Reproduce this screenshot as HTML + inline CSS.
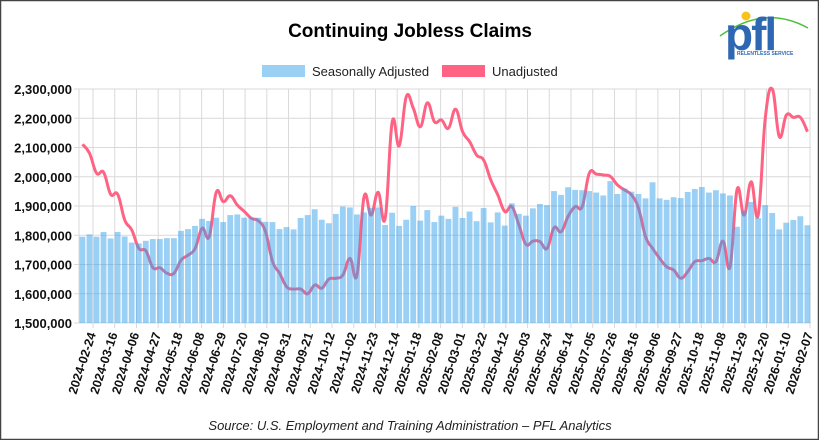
<!DOCTYPE html>
<html><head><meta charset="utf-8"><style>
body{margin:0;background:#fff;}
svg{display:block;font-family:"Liberation Sans",Arial,sans-serif;}
</style></head><body>
<svg id="c" width="819" height="440" viewBox="0 0 819 440" xmlns="http://www.w3.org/2000/svg">
<rect x="0.5" y="0.5" width="818" height="439" fill="#fff" stroke="#444" stroke-width="1.5"/>
<text x="410" y="37" text-anchor="middle" font-size="19" font-weight="bold" fill="#000">Continuing Jobless Claims</text>
<rect x="262" y="65" width="43" height="12" fill="rgb(155,208,245)"/>
<text x="312" y="76" font-size="13" fill="#222">Seasonally Adjusted</text>
<rect x="442" y="65" width="43" height="12" fill="rgb(255,99,132)"/>
<text x="492" y="76" font-size="13" fill="#222">Unadjusted</text>
<g id="logo">
<path d="M720 36 Q765 4 808 28" fill="none" stroke="#4bbf3a" stroke-width="1.5"/>
<circle cx="746" cy="16" r="4.5" fill="#f7c21c"/>
<text x="725" y="50" font-size="46" font-weight="bold" fill="#2f68b2" letter-spacing="-2">pfl</text>
<text x="737" y="55" font-size="5" font-weight="bold" fill="#2f68b2">RELENTLESS SERVICE</text>
</g>
<g id="grid"></g><g id="line"></g><g id="bars"></g><g id="labels"></g>
<text x="410" y="430" text-anchor="middle" font-size="13" font-style="italic" fill="#222">Source: U.S. Employment and Training Administration – PFL Analytics</text>
</svg>
<script>
var NS="http://www.w3.org/2000/svg";
function el(t,a,p,txt){var e=document.createElementNS(NS,t);for(var k in a)e.setAttribute(k,a[k]);if(txt)e.textContent=txt;document.getElementById(p).appendChild(e);return e;}
var sa=[1795,1803,1795,1811,1789,1811,1796,1775,1772,1781,1787,1787,1790,1790,1815,1821,1832,1856,1849,1860,1845,1869,1871,1860,1860,1860,1846,1845,1821,1828,1820,1859,1869,1889,1853,1841,1873,1898,1895,1871,1878,1894,1895,1835,1877,1832,1853,1900,1850,1886,1845,1867,1856,1897,1859,1881,1848,1893,1844,1878,1833,1909,1873,1867,1892,1907,1903,1951,1938,1964,1955,1954,1951,1946,1936,1985,1941,1960,1949,1941,1926,1981,1926,1921,1930,1927,1948,1958,1965,1946,1954,1943,1936,1829,1884,1914,1859,1903,1876,1820,1843,1852,1865,1834];
var ua=[2111,2080,2012,2015,1940,1940,1852,1818,1755,1747,1689,1689,1670,1670,1715,1732,1755,1824,1795,1947,1915,1935,1903,1881,1858,1849,1812,1710,1670,1624,1616,1616,1600,1630,1619,1650,1653,1664,1721,1664,1932,1869,1947,1858,2188,2106,2274,2234,2171,2253,2188,2194,2166,2231,2154,2120,2074,2057,1989,1938,1881,1898,1835,1769,1780,1778,1755,1826,1812,1865,1898,1898,2012,2009,2006,2001,1972,1955,1938,1892,1795,1755,1721,1692,1681,1653,1676,1710,1713,1721,1710,1780,1692,1957,1869,1983,1869,2200,2300,2137,2211,2203,2203,2154];
var labs=["2024-02-24","2024-03-16","2024-04-06","2024-04-27","2024-05-18","2024-06-08","2024-06-29","2024-07-20","2024-08-10","2024-08-31","2024-09-21","2024-10-12","2024-11-02","2024-11-23","2024-12-14","2025-01-18","2025-02-08","2025-03-01","2025-03-22","2025-04-12","2025-05-03","2025-05-24","2025-06-14","2025-07-05","2025-07-26","2025-08-16","2025-09-06","2025-09-27","2025-10-18","2025-11-08","2025-11-29","2025-12-20","2026-01-10","2026-02-07"];
var L=79,R=811,n=104,cw=(R-L)/n;
function Y(v){return 89+(2300-v)/100*29.25;}
function X(i){return L+cw*(i+0.5);}
for(var v=1500;v<=2300;v+=100){var y=Y(v);
 el("line",{x1:74,x2:R,y1:y,y2:y,stroke:"#d9d9d9","stroke-width":1},"grid");
 el("text",{x:72,y:y+5,"text-anchor":"end","font-size":13,"font-weight":"bold",fill:"#111"},"labels",(v/1000).toFixed(3).replace(".",",")+",000");}
el("line",{x1:L,x2:L,y1:89,y2:323,stroke:"#d9d9d9"},"grid");
var step=(810-93)/(labs.length-1);
for(var k=0;k<labs.length;k++){var x=93+k*step;el("line",{x1:x,x2:x,y1:89,y2:328,stroke:"#d9d9d9"},"grid");
 el("text",{x:0,y:0,"text-anchor":"end","font-size":12.5,"font-weight":"bold",fill:"#111",transform:"translate("+(x+3)+",334) rotate(-72)"},"labels",labs[k]);}
for(var i=0;i<n;i++){var y=Y(sa[i]);el("rect",{x:L+cw*i+0.5,y:y,width:cw-1.2,height:323-y,fill:"rgba(54,162,235,0.5)"},"bars");}
var p="M"+X(0)+","+Y(ua[0]);
for(var i=0;i<n-1;i++){var x0=X(Math.max(i-1,0)),y0=Y(ua[Math.max(i-1,0)]),x1=X(i),y1=Y(ua[i]),x2=X(i+1),y2=Y(ua[i+1]),x3=X(Math.min(i+2,n-1)),y3=Y(ua[Math.min(i+2,n-1)]);var t=0.2;
 p+=" C"+(x1+(x2-x0)*t)+","+(y1+(y2-y0)*t)+" "+(x2-(x3-x1)*t)+","+(y2-(y3-y1)*t)+" "+x2+","+y2;}
el("path",{d:p,fill:"none",stroke:"rgb(255,99,132)","stroke-width":3,"stroke-linejoin":"round"},"line");
</script>
</body></html>
